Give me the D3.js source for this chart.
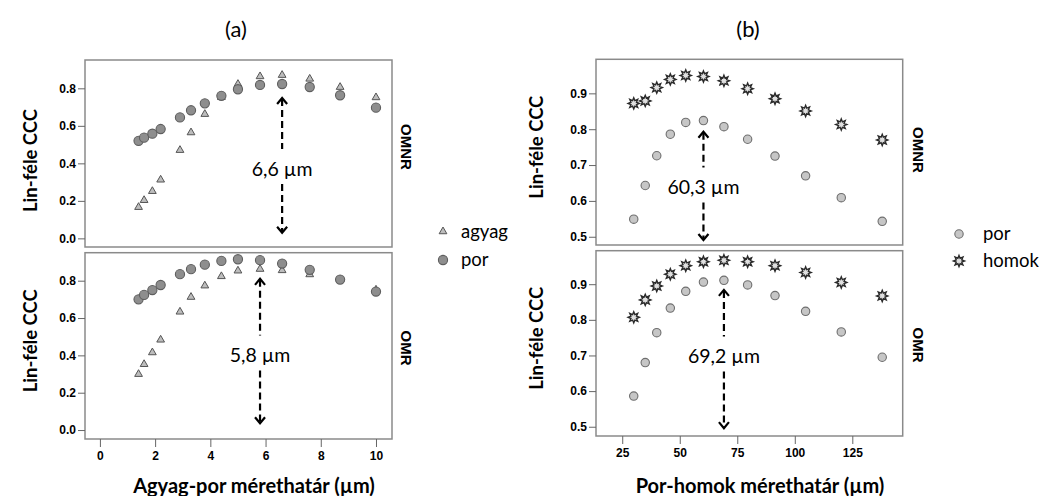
<!DOCTYPE html>
<html><head><meta charset="utf-8">
<script src="https://cdn.jsdelivr.net/npm/d3@7"></script>
<style>
body{margin:0;background:#fff;}
svg text{fill:#000;}
</style></head>
<body><svg id="c" width="1046" height="496"></svg>
<script>
// ---- data ----
const xA = [1.4,1.6,1.9,2.2,2.9,3.3,3.8,4.4,5.0,5.8,6.6,7.6,8.7,10];
const aOMNR_agyag = [0.169,0.206,0.254,0.315,0.473,0.567,0.665,0.755,0.825,0.866,0.873,0.853,0.809,0.754];
const aOMNR_por   = [0.520,0.537,0.558,0.583,0.645,0.683,0.720,0.760,0.795,0.818,0.823,0.807,0.763,0.697];
const aOMR_agyag  = [0.302,0.355,0.418,0.486,0.636,0.715,0.776,0.826,0.856,0.865,0.858,0.836,0.808,0.754];
const aOMR_por    = [0.700,0.724,0.750,0.777,0.835,0.862,0.886,0.906,0.915,0.910,0.892,0.858,0.806,0.742];

const xB = [30,35,40,45.9,52.6,60.3,69.2,79.5,91.4,104.7,120.2,138];
const bOMNR_por   = [0.549,0.643,0.726,0.786,0.819,0.824,0.807,0.772,0.725,0.670,0.609,0.543];
const bOMNR_homok = [0.872,0.879,0.916,0.939,0.950,0.947,0.935,0.913,0.885,0.851,0.813,0.770];
const bOMR_por    = [0.586,0.680,0.764,0.833,0.880,0.906,0.911,0.898,0.868,0.824,0.766,0.695];
const bOMR_homok  = [0.807,0.856,0.895,0.928,0.952,0.963,0.967,0.963,0.952,0.933,0.905,0.867];

const xTicksA = [0,2,4,6,8,10];
const yTicksA = [0.0,0.2,0.4,0.6,0.8];
const xTicksB = [25,50,75,100,125];
const yTicksB = [0.5,0.6,0.7,0.8,0.9];

// annotations: x value, label, arrow top, arrow bottom, text y
const annA = [{x:6.6,label:"6,6 µm",top:0.748,bot:0.03,ty:0.375},{x:5.8,label:"5,8 µm",top:0.81,bot:0.036,ty:0.405}];
const annB = [{x:60.3,label:"60,3 µm",top:0.793,bot:0.491,ty:0.64},{x:69.2,label:"69,2 µm",top:0.884,bot:0.496,ty:0.70}];

const rowLabels = ["OMNR","OMR"];
const titles = ["(a)","(b)"];
const xTitles = ["Agyag-por mérethatár (µm)","Por-homok mérethatár (µm)"];
const yTitle = "Lin-féle CCC";
const legendA = ["agyag","por"];
const legendB = ["por","homok"];

// ---- drawing ----
const svg = d3.select("#c");
const tickFont = "'Liberation Sans', Arial, sans-serif";
const textFont = "Lato, 'Open Sans', sans-serif";

function star(cx, cy, ro, ri, n){
  const pts=[];
  for(let i=0;i<2*n;i++){
    const r = i%2===0?ro:ri;
    const a = Math.PI*i/n - Math.PI/2;
    pts.push([cx+r*Math.cos(a), cy+r*Math.sin(a)]);
  }
  return "M"+pts.map(p=>p.join(",")).join("L")+"Z";
}

function panel(cfg){
  const g = svg.append("g");
  const x = d3.scaleLinear().domain(cfg.xd).range([cfg.x0,cfg.x1]);
  const y = d3.scaleLinear().domain(cfg.yd).range([cfg.y1,cfg.y0]);
  g.append("rect").attr("x",cfg.x0).attr("y",cfg.y0).attr("width",cfg.x1-cfg.x0).attr("height",cfg.y1-cfg.y0)
    .attr("fill","none").attr("stroke","#8a8a8a").attr("stroke-width",1.5);
  const ya = g.append("g").attr("transform",`translate(${cfg.x0},0)`)
    .call(d3.axisLeft(y).tickValues(cfg.yt).tickSize(7).tickPadding(2).tickFormat(d3.format(".1f")));
  ya.select(".domain").remove();
  ya.selectAll("line").attr("stroke","#666");
  ya.selectAll("text").attr("font-family",tickFont).attr("font-weight","bold").attr("font-size",12).attr("fill","#222");
  if(cfg.showX){
    const xa = g.append("g").attr("transform",`translate(0,${cfg.y1})`)
      .call(d3.axisBottom(x).tickValues(cfg.xt).tickSize(8).tickPadding(4));
    xa.select(".domain").remove();
    xa.selectAll("line").attr("stroke","#666");
    xa.selectAll("text").attr("font-family",tickFont).attr("font-weight","bold").attr("font-size",12).attr("fill","#222");
  }
  // series
  cfg.series.forEach(s=>{
    s.vals.forEach((v,i)=>{
      drawMarker(g,s.kind,x(cfg.xs[i]),y(v));
    });
  });
  // annotation
  const a = cfg.ann;
  const ax = x(a.x);
  const yt=y(a.top), yb=y(a.bot), ty=y(a.ty);
  const gap = 19;
  g.append("line").attr("x1",ax).attr("x2",ax).attr("y1",yt+1).attr("y2",ty-gap)
    .attr("stroke","#000").attr("stroke-width",2.2).attr("stroke-dasharray","7,4");
  g.append("line").attr("x1",ax).attr("x2",ax).attr("y1",ty+gap-3).attr("y2",yb-1)
    .attr("stroke","#000").attr("stroke-width",2.2).attr("stroke-dasharray","7,4");
  g.append("path").attr("d",`M${ax-5},${yt+6}L${ax},${yt}L${ax+5},${yt+6}`)
    .attr("fill","none").attr("stroke","#000").attr("stroke-width",2.2);
  g.append("path").attr("d",`M${ax-5},${yb-6}L${ax},${yb}L${ax+5},${yb-6}`)
    .attr("fill","none").attr("stroke","#000").attr("stroke-width",2.2);
  g.append("text").attr("x",ax).attr("y",ty).attr("text-anchor","middle").attr("dominant-baseline","central")
    .attr("font-family",textFont).attr("font-size",19.5).text(a.label);
  // y title
  svg.append("text").attr("transform",`translate(${cfg.ytx},${(cfg.y0+cfg.y1)/2+cfg.ytdy}) rotate(-90)`)
    .attr("text-anchor","middle").attr("dominant-baseline","central")
    .attr("font-family",textFont).attr("font-weight","bold").attr("font-size",18.5).text(yTitle);
  // row label
  svg.append("text").attr("transform",`translate(${cfg.rlx},${cfg.rly}) rotate(90)`)
    .attr("text-anchor","middle").attr("dominant-baseline","central")
    .attr("font-family",tickFont).attr("font-weight","bold").attr("font-size",15).attr("fill","#111").text(cfg.row);
}

function drawMarker(g,kind,px,py){
  if(kind==="tri"){
    g.append("path").attr("d",d3.symbol(d3.symbolTriangle,26)()).attr("transform",`translate(${px},${py+0.5})`)
      .attr("fill","#bdbdbd").attr("stroke","#555").attr("stroke-width",1);
  } else if(kind==="circA"){
    g.append("circle").attr("cx",px).attr("cy",py).attr("r",4.6).attr("fill","#8e8e8e").attr("stroke","#5e5e5e").attr("stroke-width",1.1);
  } else if(kind==="circB"){
    g.append("circle").attr("cx",px).attr("cy",py).attr("r",4.2).attr("fill","#c6c6c6").attr("stroke","#6e6e6e").attr("stroke-width",1.1);
  } else if(kind==="star"){
    g.append("path").attr("d",star(px,py,5.6,3.0,8)).attr("fill","#e0e0e0").attr("stroke","#2a2a2a").attr("stroke-width",1.4);
  }
}

panel({x0:85,x1:392,y0:60,y1:247,xd:[-0.54,10.58],yd:[-0.046,0.951],xs:xA,yt:yTicksA,xt:xTicksA,showX:false,
  series:[{kind:"tri",vals:aOMNR_agyag},{kind:"circA",vals:aOMNR_por}],ann:annA[0],ytx:30,ytdy:7,rlx:406,rly:147,row:rowLabels[0]});
panel({x0:85,x1:392,y0:252.7,y1:439,xd:[-0.54,10.58],yd:[-0.048,0.95],xs:xA,yt:yTicksA,xt:xTicksA,showX:true,
  series:[{kind:"tri",vals:aOMR_agyag},{kind:"circA",vals:aOMR_por}],ann:annA[1],ytx:30,ytdy:-5,rlx:406,rly:348,row:rowLabels[1]});
panel({x0:596,x1:902.7,y0:59.3,y1:245,xd:[13.6,146.9],yd:[0.477,0.995],xs:xB,yt:yTicksB,xt:xTicksB,showX:false,
  series:[{kind:"circB",vals:bOMNR_por},{kind:"star",vals:bOMNR_homok}],ann:annB[0],ytx:536,ytdy:-5,rlx:918,rly:150,row:rowLabels[0]});
panel({x0:596,x1:902.7,y0:250.7,y1:436,xd:[13.6,146.9],yd:[0.474,0.994],xs:xB,yt:yTicksB,xt:xTicksB,showX:true,
  series:[{kind:"circB",vals:bOMR_por},{kind:"star",vals:bOMR_homok}],ann:annB[1],ytx:536,ytdy:-5,rlx:918,rly:345,row:rowLabels[1]});

// titles
svg.append("text").attr("x",236).attr("y",28).attr("text-anchor","middle").attr("dominant-baseline","central")
  .attr("font-family",textFont).attr("font-size",22).text(titles[0]);
svg.append("text").attr("x",748).attr("y",28).attr("text-anchor","middle").attr("dominant-baseline","central")
  .attr("font-family",textFont).attr("font-size",22).text(titles[1]);
// x titles
svg.append("text").attr("x",254).attr("y",485).attr("text-anchor","middle").attr("dominant-baseline","central")
  .attr("font-family",textFont).attr("font-weight","bold").attr("font-size",20).text(xTitles[0]);
svg.append("text").attr("x",760).attr("y",485).attr("text-anchor","middle").attr("dominant-baseline","central")
  .attr("font-family",textFont).attr("font-weight","bold").attr("font-size",20).text(xTitles[1]);

// legends
const lgA = svg.append("g");
drawMarker(lgA,"tri",443,231);
drawMarker(lgA,"circA",443,260);
lgA.append("text").attr("x",461).attr("y",231).attr("dominant-baseline","central").attr("font-family",textFont).attr("font-size",18.5).text(legendA[0]);
lgA.append("text").attr("x",461).attr("y",259).attr("dominant-baseline","central").attr("font-family",textFont).attr("font-size",18.5).text(legendA[1]);
const lgB = svg.append("g");
drawMarker(lgB,"circB",959,234);
drawMarker(lgB,"star",959,261);
lgB.append("text").attr("x",983).attr("y",233).attr("dominant-baseline","central").attr("font-family",textFont).attr("font-size",18.5).text(legendB[0]);
lgB.append("text").attr("x",983).attr("y",260).attr("dominant-baseline","central").attr("font-family",textFont).attr("font-size",18.5).text(legendB[1]);
</script></body></html>
